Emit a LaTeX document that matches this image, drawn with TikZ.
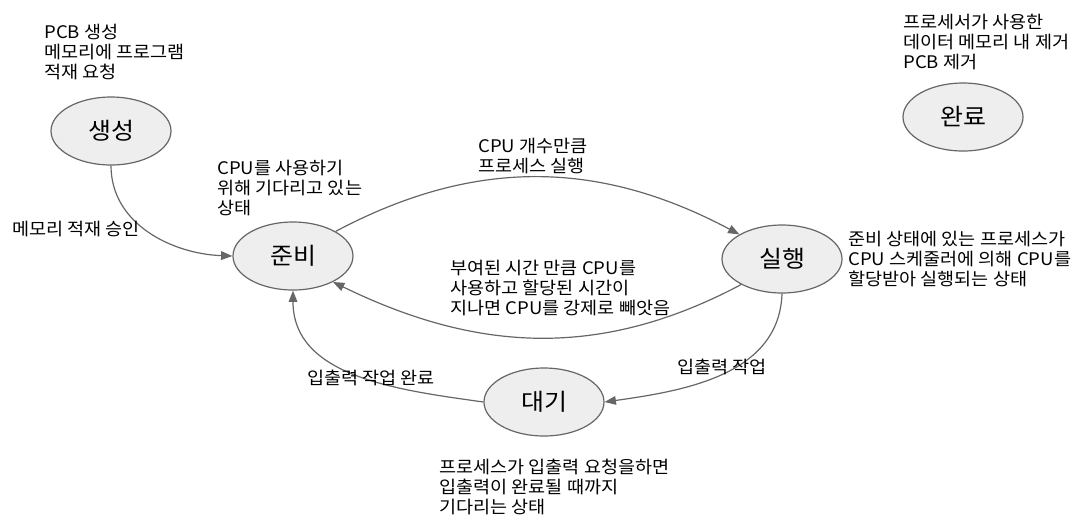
\documentclass[tikz,border=0pt]{standalone}
\usepackage{fontspec}
\setmainfont{Noto Sans CJK KR}
\newfontfamily\notefont[FakeStretch=1.07]{Noto Sans CJK KR}
\usetikzlibrary{arrows.meta,shapes.geometric}
\definecolor{statefill}{HTML}{EEEEEE}
\definecolor{linegrey}{HTML}{666666}
\tikzset{
  state/.style = {ellipse, draw=linegrey, line width=0.9pt, fill=statefill,
                  minimum width=90pt, minimum height=51pt, inner sep=0pt,
                  font=\notefont\fontsize{17.5}{18}\selectfont},
  flow/.style  = {-{Triangle[length=8.5pt, width=6.5pt]}, draw=linegrey, line width=0.9pt},
  note/.style  = {anchor=west, align=left, inner sep=0pt, font=\notefont\fontsize{13}{15}\selectfont},
}
\begin{document}
\begin{tikzpicture}[x=0.75pt, y=0.75pt]
  \useasboundingbox (0,0) rectangle (1091,-526);
  % states
  \node[state] (new)   at (111,-131) {생성};
  \node[state] (ready) at (293,-256) {준비};
  \node[state] (run)   at (782,-259) {실행};
  \node[state] (wait)  at (544,-402) {대기};
  \node[state] (done)  at (963,-117) {완료};
  % transitions
  \draw[flow] (new.south) to[out=-90, in=178] (ready.west);
  \draw[flow] (ready.30) to[out=28, in=152] (run.150);
  \draw[flow] (run.212) to[out=-152, in=-26] (ready.327);
  \draw[flow] (run.south) to[out=-92, in=8] (wait.east);
  \draw[flow] (wait.west) to[out=172, in=-90] (ready.south);
  % descriptions
  \node[note] (newnote)      at (44,-52)  {PCB 생성\\메모리에 프로그램\\적재 요청};
  \node[note] (admitnote)    at (12,-229) {메모리 적재 승인};
  \node[note] (readynote)    at (217,-188) {CPU를 사용하기\\위해 기다리고 있는\\상태};
  \node[note] (dispatchnote) at (478,-156) {CPU 개수만큼\\프로세스 실행};
  \node[note] (timeoutnote)  at (450,-288) {부여된 시간 만큼 CPU를\\사용하고 할당된 시간이\\지나면 CPU를 강제로 빼앗음};
  \node[note] (runnote)      at (848,-259) {준비 상태에 있는 프로세스가\\CPU 스케줄러에 의해 CPU를\\할당받아 실행되는 상태};
  \node[note] (ionote)       at (677,-367) {입출력 작업};
  \node[note] (iodonenote)   at (307,-378) {입출력 작업 완료};
  \node[note] (waitnote)     at (439,-487) {프로세스가 입출력 요청을하면\\입출력이 완료될 때까지\\기다리는 상태};
  \node[note] (donenote)     at (903,-42)  {프로세서가 사용한\\데이터 메모리 내 제거\\PCB 제거};
\end{tikzpicture}
\end{document}
